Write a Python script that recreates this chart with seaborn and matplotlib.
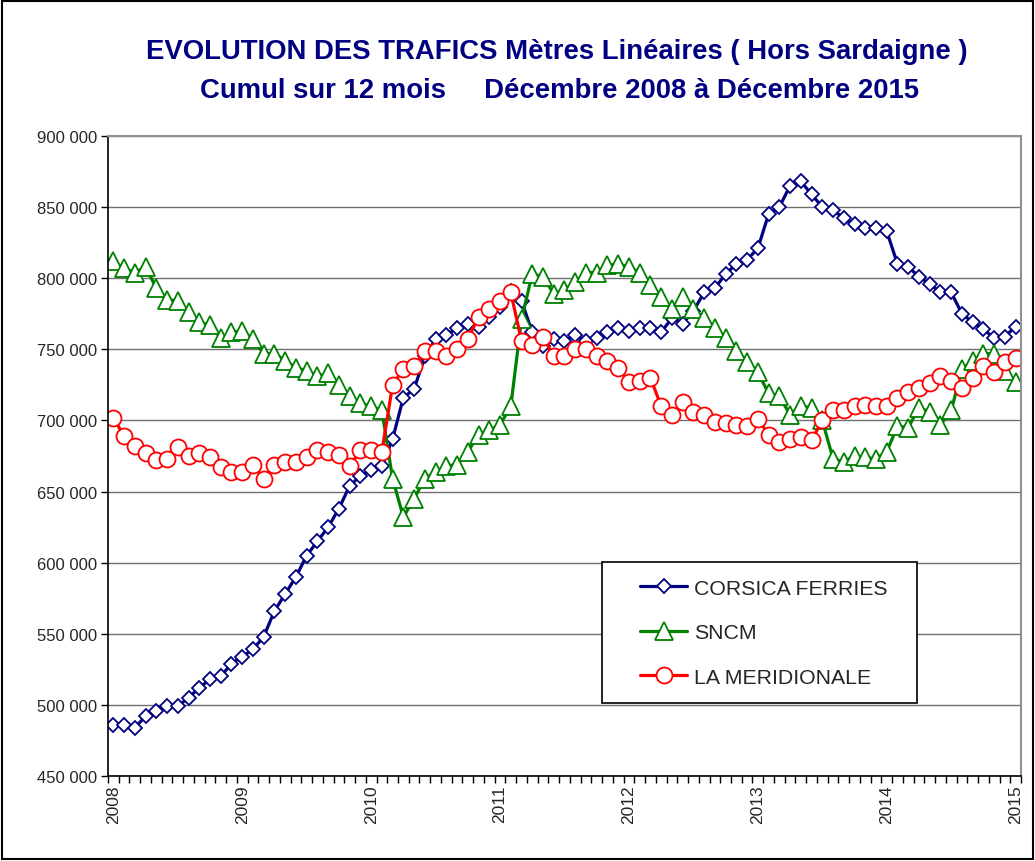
import matplotlib
matplotlib.use("Agg")
import matplotlib.pyplot as plt
from matplotlib.patches import Rectangle
from matplotlib.ticker import FuncFormatter, FixedLocator
import seaborn as sns
import numpy as np

# Cumul 12 mois, Décembre 2008 -> Décembre 2015 (85 points mensuels)
corsica_ferries = [
    486000, 486000, 484000, 492000, 496000, 499000, 499000, 505000, 512000, 518000,
    520000, 529000, 534000, 539000, 548000, 566000, 578000, 590000, 605000, 615000,
    625000, 638000, 654000, 661000, 665000, 668000, 687000, 716000, 722000, 745000,
    757000, 760000, 765000, 768000, 766000, 773000, 780000, 791000, 784000, 762000,
    752000, 757000, 756000, 760000, 756000, 758000, 762000, 765000, 763000, 765000,
    765000, 762000, 772000, 768000, 777000, 790000, 793000, 803000, 810000, 813000,
    821000, 845000, 850000, 865000, 868000, 859000, 850000, 848000, 842000, 838000,
    835000, 835000, 833000, 810000, 808000, 801000, 796000, 790000, 790000, 775000,
    769000, 764000, 758000, 759000, 766000,
]
sncm = [
    812000, 807000, 804000, 808000, 793000, 785000, 784000, 776000, 769000, 767000,
    758000, 762000, 763000, 757000, 747000, 747000, 742000, 737000, 735000, 731000,
    733000, 725000, 717000, 712000, 710000, 707000, 659000, 632000, 645000, 659000,
    664000, 668000, 669000, 678000, 690000, 693000, 697000, 710000, 771000, 803000,
    801000, 789000, 792000, 797000, 804000, 804000, 809000, 810000, 808000, 804000,
    795000, 787000, 778000, 787000, 778000, 772000, 765000, 758000, 749000, 741000,
    734000, 719000, 717000, 704000, 710000, 709000, 700000, 673000, 671000, 675000,
    674000, 673000, 678000, 696000, 695000, 709000, 706000, 697000, 707000, 736000,
    742000, 747000, 747000, 735000, 727000,
]
la_meridionale = [
    702000, 689000, 682000, 677000, 672000, 673000, 681000, 675000, 677000, 674000,
    667000, 664000, 664000, 669000, 659000, 669000, 671000, 671000, 674000, 679000,
    678000, 676000, 668000, 679000, 679000, 678000, 725000, 736000, 738000, 749000,
    749000, 745000, 750000, 757000, 773000, 778000, 784000, 790000, 756000, 753000,
    759000, 745000, 745000, 750000, 750000, 745000, 742000, 737000, 727000, 728000,
    730000, 710000, 704000, 713000, 706000, 704000, 699000, 698000, 697000, 696000,
    701000, 690000, 685000, 687000, 688000, 686000, 700000, 707000, 707000, 710000,
    711000, 710000, 710000, 716000, 720000, 723000, 726000, 731000, 728000, 723000,
    730000, 738000, 734000, 741000, 744000,
]
annees = ["2008", "2009", "2010", "2011", "2012", "2013", "2014", "2015"]

sns.set_style("white")
plt.rcParams["font.family"] = ["Liberation Sans", "DejaVu Sans"]

fig = plt.figure(figsize=(10.35, 8.62), dpi=100)
ax = fig.add_axes([0.1043, 0.0986, 0.8822, 0.7425])

mois = np.arange(len(corsica_ferries))
series = [
    ("CORSICA FERRIES", corsica_ferries, "#000080", "D", 7.6),
    ("SNCM", sncm, "#008000", "^", 12.5),
    ("LA MERIDIONALE", la_meridionale, "#FF0000", "o", 11.5),
]
for nom, valeurs, couleur, marqueur, taille in series:
    sns.lineplot(x=mois, y=valeurs, ax=ax, color=couleur, linewidth=2.3,
                 marker=marqueur, markersize=taille, markerfacecolor="white",
                 markeredgecolor=couleur, markeredgewidth=1.3, label=nom)

ax.set_xlim(-0.5, len(mois) - 0.5)
ax.set_ylim(450000, 900000)
ax.set_yticks(np.arange(450000, 900001, 50000))
ax.yaxis.set_major_formatter(FuncFormatter(lambda v, p: f"{int(v):,}".replace(",", " ")))
ax.grid(axis="y", color="#707070", linewidth=1)
ax.set_axisbelow(True)

ax.set_xticks(np.arange(0, len(mois), 12))
ax.set_xticklabels(annees, rotation=90)
ax.xaxis.set_minor_locator(FixedLocator(np.arange(-0.5, len(mois), 1)))
ax.tick_params(axis="x", which="major", length=0, labelsize=12.5, pad=6)
ax.tick_params(axis="x", which="minor", length=5, width=1, color="black", direction="out", bottom=True)
ax.tick_params(axis="y", which="major", length=5, width=1, color="black", direction="out",
               left=True, labelsize=12, pad=3)
ax.set_xlabel("")
ax.set_ylabel("")

for cote in ["left", "bottom"]:
    ax.spines[cote].set_color("black")
    ax.spines[cote].set_linewidth(1.2)
for cote in ["top", "right"]:
    ax.spines[cote].set_color("#909090")
    ax.spines[cote].set_linewidth(1.5)

# legende dans un cadre noir
ax.add_patch(Rectangle((0.541, 0.114), 0.345, 0.220, transform=ax.transAxes,
                       facecolor="white", edgecolor="black", linewidth=1.2, zorder=5))
leg = ax.legend(loc="center left", bbox_to_anchor=(0.562, 0.224), frameon=False,
                fontsize=15.3, handlelength=2.2, handletextpad=0.35, labelspacing=1.2)
leg.set_zorder(6)

titre_police = ["Liberation Sans Narrow", "Liberation Sans", "DejaVu Sans"]
fig.text(0.538, 0.940, "EVOLUTION DES TRAFICS Mètres Linéaires ( Hors Sardaigne )",
         ha="center", va="center", fontsize=19.8, fontweight="bold", color="#000080",
         family=titre_police)
fig.text(0.541, 0.894, "Cumul sur 12 mois     Décembre 2008 à Décembre 2015",
         ha="center", va="center", fontsize=19.8, fontweight="bold", color="#000080",
         family=titre_police)

fig.patches.append(Rectangle((0.002, 0.002), 0.996, 0.996, transform=fig.transFigure,
                             fill=False, edgecolor="black", linewidth=1.5))

fig.savefig("out.png", dpi=100)
